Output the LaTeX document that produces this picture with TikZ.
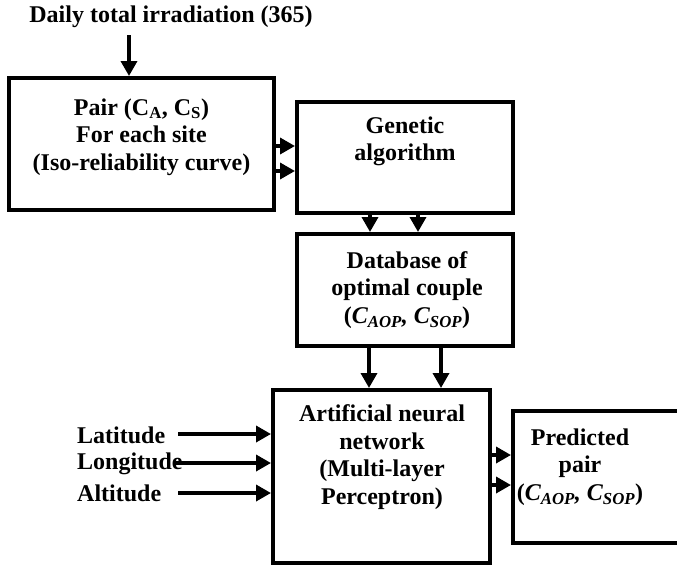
\documentclass[tikz,border=0pt]{standalone}
\usepackage{fontspec}
\setmainfont{Liberation Serif}
\usetikzlibrary{arrows.meta}
\begin{document}
\begin{tikzpicture}[x=1pt,y=-1pt,
  box/.style={draw,line width=4pt,rectangle,inner sep=0pt},
  txt/.style={align=center,font=\fontsize{24}{27.5}\selectfont\bfseries,inner sep=0pt},
  arr/.style={line width=3.5pt,-{Triangle[length=15pt,width=16pt]}}]
\useasboundingbox (0,0) rectangle (677,568);
% boxes
\node[box,minimum width=265pt,minimum height=132pt] (pair) at (141.5,144) {};
\node[box,minimum width=216pt,minimum height=111pt] (gen) at (405,157.5) {};
\node[box,minimum width=216pt,minimum height=112pt] (db) at (405,290) {};
\node[box,minimum width=217pt,minimum height=173pt] (ann) at (381.5,476.5) {};
\node[box,minimum width=187pt,minimum height=132pt] (pred) at (606.5,477) {};
% texts
\node[txt] (title) at (171,17) {Daily total irradiation (365)};
\node[txt] (pairt) at (141.5,137) {Pair (C\textsubscript{A}, C\textsubscript{S})\\For each site\\(Iso-reliability curve)};
\node[txt] (gent) at (405,141.5) {Genetic\\algorithm};
\node[txt] (dbt) at (407,290) {Database of\\optimal couple\\(\textit{C\textsubscript{AOP}, C\textsubscript{SOP}})};
\node[txt] (annt) at (382,457) {Artificial neural\\network\\(Multi-layer\\Perceptron)};
\node[txt] (predt) at (580,467) {Predicted\\pair\\(\textit{C\textsubscript{AOP}, C\textsubscript{SOP}})};
\node[txt,anchor=west] (lat) at (77,435) {Latitude};
\node[txt,anchor=west] (lon) at (77,464) {Longitude};
\node[txt,anchor=west] (alt) at (77,493) {Altitude};
% connectors
\coordinate (t1) at (129,35);
\draw[arr] (t1) -- (t1 |- pair.north);
\coordinate (p1) at (0,146);
\coordinate (p2) at (0,171);
\draw[arr] (pair.east |- p1) -- (gen.west |- p1);
\draw[arr] (pair.east |- p2) -- (gen.west |- p2);
\coordinate (g1) at (370,0);
\coordinate (g2) at (418,0);
\draw[arr] (g1 |- gen.south) -- (g1 |- db.north);
\draw[arr] (g2 |- gen.south) -- (g2 |- db.north);
\coordinate (d1) at (369,0);
\coordinate (d2) at (441,0);
\draw[arr] (d1 |- db.south) -- (d1 |- ann.north);
\draw[arr] (d2 |- db.south) -- (d2 |- ann.north);
\coordinate (l1) at (178,434);
\coordinate (l2) at (173,463);
\coordinate (l3) at (178,493);
\draw[arr] (l1) -- (l1 -| ann.west);
\draw[arr] (l2) -- (l2 -| ann.west);
\draw[arr] (l3) -- (l3 -| ann.west);
\coordinate (a1) at (0,455);
\coordinate (a2) at (0,485);
\draw[arr] (ann.east |- a1) -- (pred.west |- a1);
\draw[arr] (ann.east |- a2) -- (pred.west |- a2);
\end{tikzpicture}
\end{document}
